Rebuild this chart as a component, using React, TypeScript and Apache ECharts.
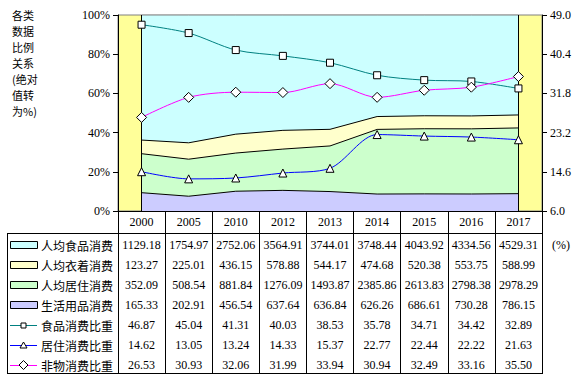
import React, { useEffect, useRef } from "react";
import * as echarts from "echarts";

const years = ["2000", "2005", "2010", "2012", "2013", "2014", "2015", "2016", "2017"];
const foodSpend = [1129.18, 1754.97, 2752.06, 3564.91, 3744.01, 3748.44, 4043.92, 4334.56, 4529.31];
const clothingSpend = [123.27, 225.01, 436.15, 578.88, 544.17, 474.68, 520.38, 553.75, 588.99];
const housingSpend = [352.09, 508.54, 881.84, 1276.09, 1493.87, 2385.86, 2613.83, 2798.38, 2978.29];
const goodsSpend = [165.33, 202.91, 456.54, 637.64, 636.84, 626.26, 686.61, 730.28, 786.15];
const foodRatio = [46.87, 45.04, 41.31, 40.03, 38.53, 35.78, 34.71, 34.42, 32.89];
const housingRatio = [14.62, 13.05, 13.24, 14.33, 15.37, 22.77, 22.44, 22.22, 21.63];
const nonMaterialRatio = [26.53, 30.93, 32.06, 31.99, 33.94, 30.94, 32.49, 33.16, 35.5];
const leftTicks = [0, 20, 40, 60, 80, 100];
const rightTicks = [6.0, 14.6, 23.2, 31.8, 40.4, 49.0];
const titleLines = ["各类", "数据", "比例", "关系", "(绝对", "值转", "为%)"];

const W = 581;
const H = 379;
const GRID = { left: 118, right: 39, top: 15, bottom: 168 };
const SERIF = "'Times New Roman', 'Liberation Serif', serif";
const CJK = "'Noto Sans CJK SC', 'Noto Sans', sans-serif";

const totals = years.map((_, i) => foodSpend[i] + clothingSpend[i] + housingSpend[i] + goodsSpend[i]);
const pct = (arr: number[]) => arr.map((v, i) => (v / totals[i]) * 100);

export default function App() {
  const ref = useRef<HTMLDivElement>(null);
  useEffect(() => {
    if (!ref.current) return;
    const chart = echarts.init(ref.current, undefined, { renderer: "svg" });

    const gridRight = W - GRID.right;
    const colW = (gridRight - GRID.left) / years.length;
    const tableTop = 233;
    const tableBottom = 373;
    const tableLeft = 7;
    const rowY = (r: number) => 245 + r * 20;

    const rows = [
      { name: "人均食品消费", data: foodSpend, kind: "area", color: "#CCFFFF" },
      { name: "人均衣着消费", data: clothingSpend, kind: "area", color: "#FFFFCC" },
      { name: "人均居住消费", data: housingSpend, kind: "area", color: "#CCFFCC" },
      { name: "生活用品消费", data: goodsSpend, kind: "area", color: "#CCCCFF" },
      { name: "食品消费比重", data: foodRatio, kind: "rect", color: "#008080" },
      { name: "居住消费比重", data: housingRatio, kind: "triangle", color: "#0000FF" },
      { name: "非物消费比重", data: nonMaterialRatio, kind: "diamond", color: "#FF00FF" },
    ];

    const graphics: any[] = [];
    // title, one line per element
    titleLines.forEach((t, k) => {
      graphics.push({
        type: "text",
        style: {
          text: t,
          x: 12,
          y: 15 + k * 16,
          font: `11px ${CJK}`,
          fill: "#000",
          align: "left",
          verticalAlign: "middle",
        },
      });
    });
    // (%) label
    graphics.push({
      type: "text",
      style: { text: "(%)", x: 552, y: rowY(0), font: `12px ${SERIF}`, fill: "#000", align: "left", verticalAlign: "middle" },
    });
    // table borders
    const line = (x1: number, y1: number, x2: number, y2: number) => ({
      type: "line",
      shape: { x1, y1, x2, y2 },
      style: { stroke: "#000", lineWidth: 1 },
      silent: true,
    });
    graphics.push(line(tableLeft, tableTop + 0.5, gridRight + 0.5, tableTop + 0.5));
    graphics.push(line(tableLeft, tableBottom + 0.5, gridRight + 0.5, tableBottom + 0.5));
    graphics.push(line(tableLeft + 0.5, tableTop, tableLeft + 0.5, tableBottom + 1));

    rows.forEach((row, r) => {
      const y = rowY(r);
      const sx1 = 10;
      const sx2 = 37;
      const cx = (sx1 + sx2) / 2;
      if (row.kind === "area") {
        graphics.push({
          type: "rect",
          shape: { x: sx1 + 0.5, y: y - 3.5, width: sx2 - sx1, height: 7 },
          style: { fill: row.color, stroke: "#000", lineWidth: 1 },
        });
      } else {
        graphics.push({
          type: "line",
          shape: { x1: sx1, y1: y + 0.5, x2: sx2, y2: y + 0.5 },
          style: { stroke: row.color, lineWidth: 1 },
        });
        if (row.kind === "rect") {
          graphics.push({
            type: "rect",
            shape: { x: cx - 2.5, y: y - 2, width: 5, height: 5 },
            style: { fill: "#fff", stroke: "#000", lineWidth: 1 },
          });
        } else if (row.kind === "triangle") {
          graphics.push({
            type: "polygon",
            shape: { points: [[cx, y - 3], [cx + 3.5, y + 3], [cx - 3.5, y + 3]] },
            style: { fill: "#fff", stroke: "#000", lineWidth: 1 },
          });
        } else {
          graphics.push({
            type: "polygon",
            shape: { points: [[cx, y - 4.5], [cx + 4.5, y], [cx, y + 4.5], [cx - 4.5, y]] },
            style: { fill: "#fff", stroke: "#000", lineWidth: 1 },
          });
        }
      }
      graphics.push({
        type: "text",
        style: { text: row.name, x: 41, y, font: `12px ${CJK}`, fill: "#000", align: "left", verticalAlign: "middle" },
      });
      row.data.forEach((v, i) => {
        graphics.push({
          type: "text",
          style: {
            text: v.toFixed(2),
            x: GRID.left + colW * (i + 0.5),
            y,
            font: `12px ${SERIF}`,
            fill: "#000",
            align: "center",
            verticalAlign: "middle",
          },
        });
      });
    });

    const areaSeries = (name: string, data: number[], color: string, lineColor: string, extra: any = {}) => ({
      name,
      type: "line",
      stack: "total",
      data,
      symbol: "none",
      smooth: false,
      lineStyle: { color: lineColor, width: 1 },
      areaStyle: { color, opacity: 1 },
      z: 2,
      ...extra,
    });

    const option: any = {
      animation: false,
      backgroundColor: "#fff",
      grid: {
        ...GRID,
        show: true,
        backgroundColor: "#FFFF99",
        borderColor: "#808080",
        borderWidth: 1,
        containLabel: false,
      },
      xAxis: {
        type: "category",
        data: years,
        boundaryGap: true,
        axisLine: { show: true, lineStyle: { color: "#000", width: 1 } },
        axisTick: { show: true, length: tableBottom - (H - GRID.bottom) + 1, lineStyle: { color: "#000" } },
        axisLabel: { margin: 5, fontFamily: SERIF, fontSize: 12, color: "#000" },
        splitLine: { show: false },
      },
      yAxis: [
        {
          type: "value",
          min: 0,
          max: 100,
          interval: 20,
          position: "left",
          axisLine: { show: true, lineStyle: { color: "#000" } },
          axisTick: { show: true, length: 5, lineStyle: { color: "#000" } },
          axisLabel: {
            formatter: "{value}%",
            fontFamily: SERIF,
            fontSize: 12,
            color: "#000",
            margin: 8,
            customValues: leftTicks,
          },
          splitLine: { show: false },
        },
        {
          type: "value",
          min: rightTicks[0],
          max: rightTicks[rightTicks.length - 1],
          position: "right",
          axisLine: { show: true, lineStyle: { color: "#000" } },
          axisTick: { show: true, length: 5, lineStyle: { color: "#000" }, customValues: rightTicks },
          axisLabel: {
            formatter: (v: number) => v.toFixed(1),
            fontFamily: SERIF,
            fontSize: 12,
            color: "#000",
            margin: 8,
            customValues: rightTicks,
          },
          splitLine: { show: false },
        },
      ],
      series: [
        areaSeries("生活用品消费", pct(goodsSpend), "#CCCCFF", "#000", {
          markLine: {
            silent: true,
            symbol: ["none", "none"],
            label: { show: false },
            lineStyle: { color: "#000", type: "solid", width: 1 },
            data: [{ xAxis: years[0] }, { xAxis: years[years.length - 1] }],
          },
        }),
        areaSeries("人均居住消费", pct(housingSpend), "#CCFFCC", "#000"),
        areaSeries("人均衣着消费", pct(clothingSpend), "#FFFFCC", "#000"),
        areaSeries("人均食品消费", pct(foodSpend), "#CCFFFF", "#808080"),
        {
          name: "食品消费比重",
          type: "line",
          yAxisIndex: 1,
          data: foodRatio,
          smooth: 0.3,
          symbol: "rect",
          symbolSize: 7,
          showAllSymbol: true,
          lineStyle: { color: "#008080", width: 1 },
          itemStyle: { color: "#fff", borderColor: "#000", borderWidth: 1 },
          z: 5,
        },
        {
          name: "居住消费比重",
          type: "line",
          yAxisIndex: 1,
          data: housingRatio,
          smooth: 0.3,
          symbol: "triangle",
          symbolSize: 8,
          showAllSymbol: true,
          lineStyle: { color: "#0000FF", width: 1 },
          itemStyle: { color: "#fff", borderColor: "#000", borderWidth: 1 },
          z: 5,
        },
        {
          name: "非物消费比重",
          type: "line",
          yAxisIndex: 1,
          data: nonMaterialRatio,
          smooth: 0.3,
          symbol: "diamond",
          symbolSize: 10,
          showAllSymbol: true,
          lineStyle: { color: "#FF00FF", width: 1 },
          itemStyle: { color: "#fff", borderColor: "#000", borderWidth: 1 },
          z: 5,
        },
      ],
      graphic: graphics,
    };
    chart.setOption(option);
    return () => chart.dispose();
  }, []);
  return (
    <div
      ref={ref}
      style={{ position: "fixed", left: 0, top: 0, width: W, height: H, background: "#fff" }}
    />
  );
}
